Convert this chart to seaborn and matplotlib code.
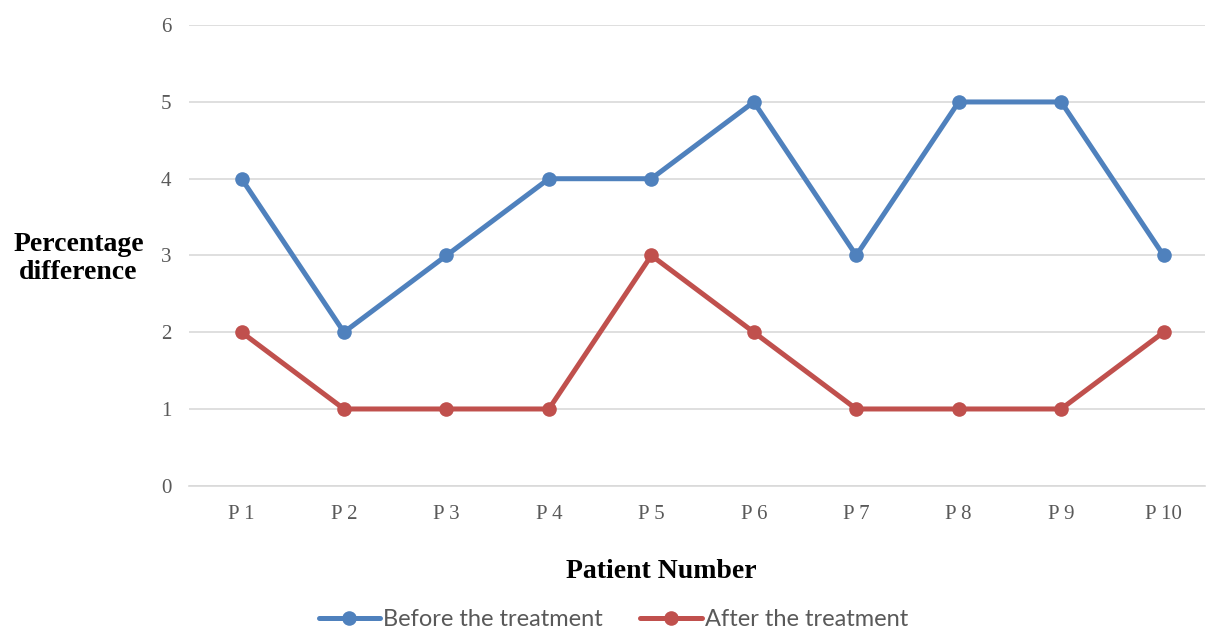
import pandas as pd
import seaborn as sns
import matplotlib.pyplot as plt

# -------------------------
# Data
# -------------------------

patients = ["P 1", "P 2", "P 3", "P 4", "P 5", "P 6", "P 7", "P 8", "P 9", "P 10"]
before = [4, 2, 3, 4, 4, 5, 3, 5, 5, 3]
after = [2, 1, 1, 1, 3, 2, 1, 1, 1, 2]
y_ticks = [0, 1, 2, 3, 4, 5, 6]

series_names = ["Before the treatment", "After the treatment"]
colors = {"Before the treatment": "#4F81BD", "After the treatment": "#C0504D"}

data = pd.concat([
    pd.DataFrame({"Patient": patients, "Value": before, "Series": series_names[0]}),
    pd.DataFrame({"Patient": patients, "Value": after, "Series": series_names[1]}),
], ignore_index=True)
data["x"] = data["Patient"].map({p: i for i, p in enumerate(patients)})

# -------------------------
# Plot
# -------------------------

sns.set_style("white")

fig = plt.figure(figsize=(12.07, 6.3), dpi=100)
ax = fig.add_axes([0.157, 0.229, 0.841, 0.731])

sns.lineplot(
    data=data, x="x", y="Value", hue="Series",
    hue_order=series_names, palette=colors,
    marker="o", markersize=10.5, markeredgewidth=0,
    linewidth=3.6, legend=False, ax=ax
)

ax.set_xlim(-0.508, 9.40)
ax.set_ylim(0, 6)
ax.set_xticks(range(len(patients)))
ax.set_xticklabels(patients)
ax.set_yticks(y_ticks)

ax.yaxis.grid(True, color="#D9D9D9", linewidth=1.2)
ax.set_axisbelow(True)
for spine_loc, spine in ax.spines.items():
    if spine_loc == "bottom":
        spine.set_color("#D9D9D9")
        spine.set_linewidth(1.2)
    else:
        spine.set_visible(False)

ax.tick_params(axis="both", length=0, labelsize=15, labelcolor="#595959")
for lab in ax.get_xticklabels() + ax.get_yticklabels():
    lab.set_fontfamily("Liberation Serif")
ax.tick_params(axis="y", pad=13)
ax.tick_params(axis="x", pad=14)

ax.set_xlabel("")
ax.set_ylabel("")
fig.text(0.548, 0.093, "Patient Number", ha="center", va="center",
         fontsize=20, fontweight="bold", family="Liberation Serif",
         color="black")
fig.text(0.065, 0.59, "Percentage\ndifference", ha="center", va="center",
         fontsize=20, fontweight="bold", family="Liberation Serif",
         color="black", linespacing=1.15)

# -------------------------
# Legend
# -------------------------

handles = [
    plt.Line2D([], [], color=colors[s], linewidth=3.6, marker="o",
               markersize=10.5, markeredgewidth=0)
    for s in series_names
]
fig.legend(handles, series_names, loc="center", bbox_to_anchor=(0.508, 0.016),
           ncol=2, frameon=False, handlelength=2.6, handletextpad=0.12,
           columnspacing=1.6,
           prop={"family": "Lato", "size": 17})
for t in fig.legends[0].get_texts():
    t.set_color("#595959")

fig.savefig("out.png", dpi=100)
plt.close(fig)
